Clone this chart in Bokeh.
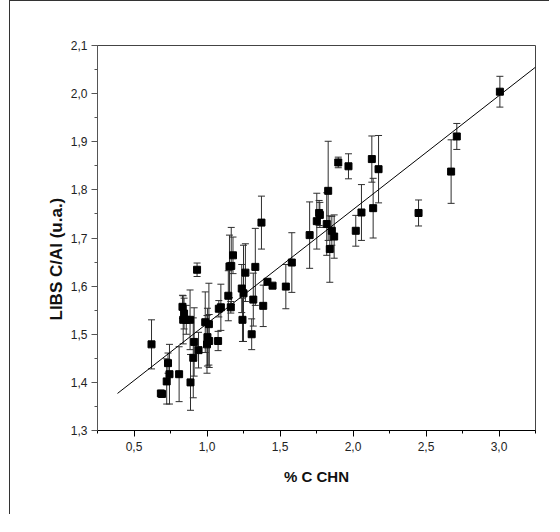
from bokeh.plotting import figure
from bokeh.models import (ColumnDataSource, Whisker, TeeHead, FixedTicker, Range1d,
                          Title, Spacer)
from bokeh.layouts import row
from bokeh.embed import file_html
from bokeh.resources import INLINE
import numpy as np

# % C (CHN analysis)
x_chn = [0.620, 0.684, 0.692, 0.733, 0.743, 0.724, 0.809, 0.887, 0.832, 0.843,
         0.837, 0.858, 0.884, 0.906, 0.912, 0.932, 0.942, 0.988, 1.003, 1.000,
         1.015, 1.013, 1.076, 1.081, 1.095, 1.146, 1.154, 1.166, 1.163, 1.178,
         1.238, 1.250, 1.243, 1.263, 1.306, 1.317, 1.331, 1.373, 1.385, 1.414,
         1.449, 1.540, 1.581, 1.703, 1.752, 1.768, 1.773, 1.830, 1.820, 1.841,
         1.855, 1.871, 1.899, 1.969, 2.019, 2.058, 2.129, 2.138, 2.175, 2.449,
         2.672, 2.711, 3.006]
# LIBS C/Al ratio
y_libs = [1.479, 1.377, 1.376, 1.440, 1.417, 1.402, 1.417, 1.400, 1.557, 1.543,
          1.530, 1.530, 1.530, 1.451, 1.484, 1.634, 1.467, 1.525, 1.494, 1.479,
          1.486, 1.521, 1.486, 1.553, 1.556, 1.580, 1.641, 1.642, 1.556, 1.664,
          1.595, 1.585, 1.530, 1.628, 1.500, 1.572, 1.640, 1.732, 1.559, 1.609,
          1.601, 1.599, 1.649, 1.706, 1.735, 1.752, 1.748, 1.798, 1.729, 1.677,
          1.715, 1.703, 1.857, 1.849, 1.715, 1.753, 1.864, 1.762, 1.843, 1.752,
          1.838, 1.911, 2.004]
# error (+/-)
y_err = [0.051, 0.004, 0.004, 0.021, 0.062, 0.047, 0.057, 0.058, 0.024, 0.032,
         0.050, 0.030, 0.062, 0.083, 0.071, 0.014, 0.037, 0.063, 0.060, 0.060,
         0.055, 0.085, 0.020, 0.017, 0.048, 0.052, 0.065, 0.080, 0.012, 0.038,
         0.050, 0.100, 0.045, 0.060, 0.032, 0.055, 0.080, 0.055, 0.043, 0.005,
         0.004, 0.046, 0.062, 0.069, 0.058, 0.026, 0.026, 0.103, 0.065, 0.069,
         0.030, 0.045, 0.011, 0.026, 0.032, 0.058, 0.048, 0.062, 0.070, 0.027,
         0.066, 0.027, 0.032]

# linear fit
fit_slope = 0.2368
fit_intercept = 1.2854
fit_x_span = [0.387, 3.25]

x_ticks = [0.5, 1.0, 1.5, 2.0, 2.5, 3.0]
x_tick_labels = ["0,5", "1,0", "1,5", "2,0", "2,5", "3,0"]
y_ticks = [1.3, 1.4, 1.5, 1.6, 1.7, 1.8, 1.9, 2.0, 2.1]
y_tick_labels = ["1,3", "1,4", "1,5", "1,6", "1,7", "1,8", "1,9", "2,0", "2,1"]

x_title = "% C CHN"
y_title = "LIBS C/Al (u.a.)"

lo = [y - e for y, e in zip(y_libs, y_err)]
hi = [y + e for y, e in zip(y_libs, y_err)]
src = ColumnDataSource(dict(x=x_chn, y=y_libs, lo=lo, hi=hi))

p = figure(width=540, height=514,
           x_range=Range1d(0.25, 3.25), y_range=Range1d(1.3, 2.1),
           output_backend="svg", toolbar_location=None,
           min_border_left=87, min_border_right=15,
           min_border_top=44, min_border_bottom=85,
           styles={"border-left": "1px solid #333",
                   "border-top": "1px solid #333"})

p.background_fill_color = "white"
p.border_fill_color = "white"
p.grid.visible = False
p.outline_line_color = "#444444"
p.outline_line_width = 1

bar_col = "#2e2e2e"
wh = Whisker(source=src, base="x", upper="hi", lower="lo",
             line_color=bar_col, line_width=1,
             upper_head=TeeHead(size=7, line_color=bar_col, line_width=1),
             lower_head=TeeHead(size=7, line_color=bar_col, line_width=1))
p.add_layout(wh)

fit_y = [fit_intercept + fit_slope * xv for xv in fit_x_span]
p.line(fit_x_span, fit_y, line_color="black", line_width=1)

p.scatter("x", "y", source=src, marker="square", size=7,
          fill_color="black", line_color="black")

minor_x = [float(v) for v in np.arange(0.25, 3.2501, 0.25)]
minor_y = [float(v) for v in np.arange(1.3, 2.1001, 0.05)]
p.xaxis.ticker = FixedTicker(ticks=x_ticks, minor_ticks=minor_x)
p.yaxis.ticker = FixedTicker(ticks=y_ticks, minor_ticks=minor_y)
p.xaxis.major_label_overrides = dict(zip(x_ticks, x_tick_labels))
p.yaxis.major_label_overrides = dict(zip(y_ticks, y_tick_labels))

for ax in (p.xaxis[0], p.yaxis[0]):
    ax.major_tick_out = 6
    ax.major_tick_in = 0
    ax.minor_tick_out = 3
    ax.minor_tick_in = 0
    ax.major_label_text_font = "Liberation Sans"
    ax.major_label_text_font_size = "12px"
    ax.major_label_text_color = "#222222"
    ax.axis_label_text_font = "Liberation Sans"
    ax.axis_label_text_font_size = "15px"
    ax.axis_label_text_font_style = "bold"
    ax.axis_label_text_color = "#111111"

p.xaxis.axis_line_color = "black"
p.xaxis.major_tick_line_color = "black"
p.xaxis.minor_tick_line_color = "black"
p.yaxis.axis_line_color = "#555555"
p.yaxis.major_tick_line_color = "#555555"
p.yaxis.minor_tick_line_color = "#555555"

p.xaxis.axis_label = x_title
p.xaxis.major_label_standoff = 5
p.yaxis.major_label_standoff = 4
p.xaxis.axis_label_standoff = 14

# vertical axis title, placed a little below the frame centre as in the original
yt = Title(text=y_title, align="left", offset=110, standoff=4,
           text_font="Liberation Sans", text_font_size="17px",
           text_font_style="bold", text_color="#111111")
p.add_layout(yt, "left")

layout = row(Spacer(width=9, height=514), p)

open("out.html", "w").write(file_html(layout, INLINE))
